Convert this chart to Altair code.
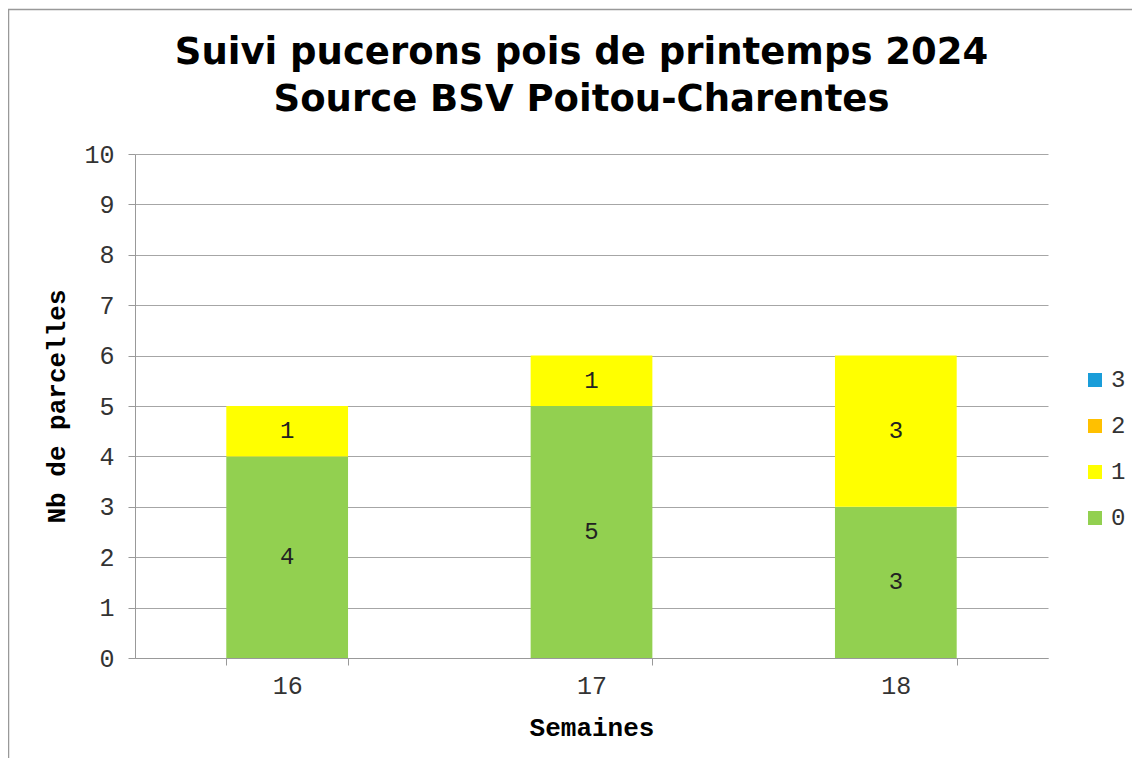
import altair as alt
import pandas as pd

weeks = ["16", "17", "18"]
classes = ["0", "1", "2", "3"]
values_0 = [4, 5, 3]
values_1 = [1, 1, 3]
values_2 = [0, 0, 0]
values_3 = [0, 0, 0]
colors = ["#92D050", "#FFFF00", "#FFC000", "#1A9DD9"]
y_ticks = list(range(0, 11))

rows = []
for cls, vals in zip(classes, [values_0, values_1, values_2, values_3]):
    for w, v in zip(weeks, vals):
        rows.append({"semaine": w, "classe": cls, "ordre": int(cls), "n": v})
df = pd.DataFrame(rows)

MONO = "Liberation Mono"
W, H = 913, 504

x_enc = alt.X("semaine:N", title="Semaines",
              scale=alt.Scale(paddingInner=0.6, paddingOuter=0.3),
              axis=alt.Axis(labelAngle=0, tickBand="extent", tickSize=7,
                            labelPadding=8, titlePadding=16,
                            labelFont=MONO, labelFontSize=25, labelColor="#333",
                            titleFont=MONO, titleFontSize=26, titleFontWeight="bold",
                            titleColor="#000", domainColor="#999", tickColor="#999",
                            grid=False))

bars = alt.Chart(df).mark_bar().encode(
    x=x_enc,
    y=alt.Y("n:Q", stack="zero", title="Nb de parcelles",
            scale=alt.Scale(domain=[0, 10], nice=False),
            axis=alt.Axis(values=y_ticks, tickSize=7, labelPadding=14,
                          titlePadding=14, labelFont=MONO, labelFontSize=25,
                          labelColor="#333", titleFont=MONO, titleFontSize=26,
                          titleFontWeight="bold", titleColor="#000",
                          domainColor="#999", tickColor="#999",
                          gridColor="#a6a6a6", gridWidth=1)),
    color=alt.Color("classe:N", title=None,
                    scale=alt.Scale(domain=["3", "2", "1", "0"],
                                    range=[colors[3], colors[2], colors[1], colors[0]]),
                    legend=alt.Legend(orient="none", legendX=948, legendY=214,
                                      symbolType="square", symbolSize=196,
                                      symbolStrokeWidth=0, labelFont=MONO,
                                      labelFontSize=24, labelColor="#333",
                                      rowPadding=22, labelOffset=4)),
    order=alt.Order("ordre:Q", sort="ascending"),
)

labels = alt.Chart(df).transform_filter("datum.n > 0").transform_window(
    cum="sum(n)", groupby=["semaine"], sort=[alt.SortField("ordre")],
    frame=[None, 0]
).transform_calculate(mid="datum.cum - datum.n / 2").mark_text(
    font=MONO, fontSize=24, color="#222", baseline="middle"
).encode(
    x=alt.X("semaine:N"),
    y=alt.Y("mid:Q"),
    text=alt.Text("n:Q"),
)

frame = alt.Chart(pd.DataFrame({"a": [0]})).mark_rect(
    fill="white", fillOpacity=0, stroke="#999", strokeWidth=1.5
).encode(x=alt.value(-126.5), x2=alt.value(W + 300),
         y=alt.value(-144.5), y2=alt.value(H + 300))

chart = alt.layer(frame, bars, labels).properties(
    width=W, height=H,
    title=alt.Title(["Suivi pucerons pois de printemps 2024",
                     "Source BSV Poitou-Charentes"],
                    font="DejaVu Sans", fontSize=37, fontWeight="bold",
                    color="#000", lineHeight=47, anchor="middle", frame="group",
                    dx=-10, offset=-110),
    autosize=alt.AutoSizeParams(type="none"),
    padding={"left": 127, "top": 146, "right": 84, "bottom": 100},
).configure_view(stroke=None).configure_axis(labelFontWeight="normal")

chart.save("out.html", embed_options={"renderer": "svg", "actions": False})
